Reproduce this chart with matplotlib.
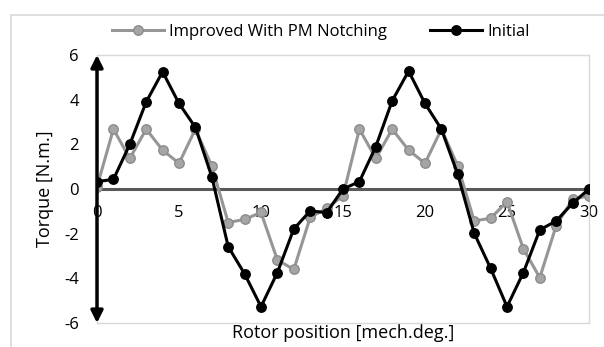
import matplotlib as mpl
import matplotlib.pyplot as plt
import matplotlib.transforms as mtransforms
from matplotlib.patches import Rectangle

mpl.use('Agg')
plt.rcParams['font.family'] = ['Open Sans', 'DejaVu Sans']

position = list(range(31))
improved = [0.1, 2.68, 1.37, 2.68, 1.74, 1.15, 2.68, 1.03, -1.5, -1.36,
            -1.05, -3.18, -3.6, -1.27, -0.87, -0.3, 2.68, 1.37, 2.68, 1.74,
            1.15, 2.68, 1.03, -1.43, -1.31, -0.57, -2.68, -3.97, -1.64, -0.46,
            -0.3]
initial = [0.33, 0.43, 2.0, 3.9, 5.25, 3.83, 2.76, 0.55, -2.58, -3.8,
           -5.27, -3.74, -1.79, -0.98, -1.06, 0.0, 0.33, 1.9, 3.95, 5.28,
           3.83, 2.68, 0.65, -1.98, -3.55, -5.27, -3.74, -1.83, -1.43, -0.64,
           0.0]
xticks = [0, 5, 10, 15, 20, 25, 30]
yticks = [-6, -4, -2, 0, 2, 4, 6]

W, H = 604, 347
fig = plt.figure(figsize=(W / 100, H / 100), dpi=100)

# outer chart border
fig.patches.append(Rectangle((11 / W, -0.01), 1.0, 1 - 15 / H + 0.01,
                             transform=fig.transFigure, fill=False,
                             edgecolor='#d9d9d9', lw=1.2))

ax = fig.add_axes([97 / W, 24 / H, (589 - 97) / W, (323 - 55) / H])
ax.set_xlim(0, 30)
ax.set_ylim(-6, 6)
for s in ax.spines.values():
    s.set_color('#d9d9d9')
    s.set_linewidth(1.0)

ax.axhline(0, color='#595959', lw=2.2, zorder=1)

ax.plot(position, improved, color='#969696', lw=2.2, marker='o', ms=6.8,
        mfc='#a5a5a5', mec='#8c8c8c', mew=1, label='Improved With PM Notching', zorder=3)
ax.plot(position, initial, color='black', lw=2.2, marker='o', ms=6.8,
        mfc='black', mec='black', label='Initial', zorder=4)

# y axis drawn as double arrow
ax.annotate('', xy=(0, 6), xytext=(0, -6),
            arrowprops=dict(arrowstyle='<|-|>', color='black', lw=2.5,
                            mutation_scale=18, shrinkA=0, shrinkB=0),
            zorder=5, annotation_clip=False)

ax.set_xticks([])
ax.set_yticks(yticks)
ax.set_yticklabels([str(t) for t in yticks], fontsize=12)
ax.tick_params(axis='y', length=0, pad=13)

off = mtransforms.offset_copy(ax.transData, fig=fig, x=0, y=-16, units='dots')
for t in xticks:
    ax.text(t, 0, str(t), transform=off, ha='center', va='top', fontsize=12,
            zorder=2)

ax.set_ylabel('Torque [N.m.]', fontsize=13, labelpad=7)
ax.set_xlabel('Rotor position [mech.deg.]', fontsize=13, labelpad=1)

fig.legend(loc='center', bbox_to_anchor=(321 / W, 1 - 32 / H), ncol=2,
           frameon=False, fontsize=12, handlelength=3.1, columnspacing=2.6,
           handletextpad=0.3)

fig.savefig('out.png', dpi=100)
